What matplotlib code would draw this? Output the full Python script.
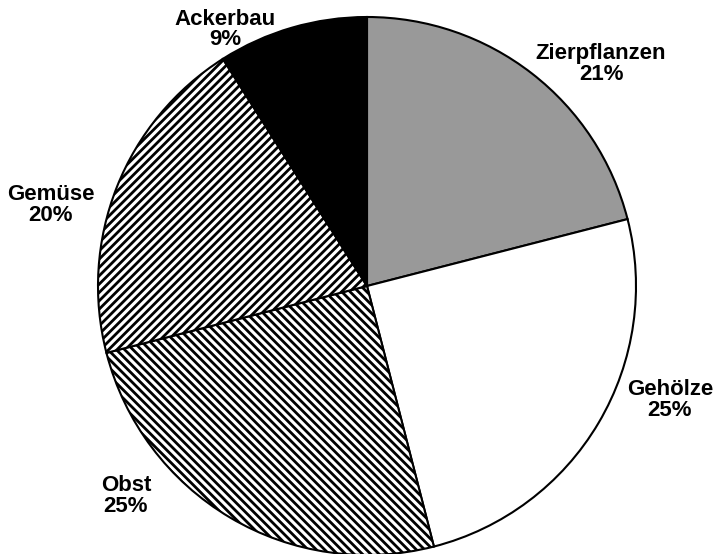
import matplotlib
matplotlib.use("Agg")
import matplotlib.pyplot as plt

# Anteile der Betriebe nach Sparte
labels = ["Zierpflanzen", "Gehölze", "Obst", "Gemüse", "Ackerbau"]
shares = [21, 25, 25, 20, 9]
colors = ["#999999", "white", "white", "white", "black"]
hatches = ["", "", "\\\\\\\\", "////", ""]

# label positions (data coords, pie radius = 1)
label_xy = [(0.870, 0.825), (1.126, -0.424), (-0.896, -0.781),
            (-1.175, 0.301), (-0.528, 0.955)]

plt.rcParams["font.family"] = ["Liberation Sans", "DejaVu Sans"]
plt.rcParams["hatch.linewidth"] = 2.0

fig = plt.figure(figsize=(7.15, 5.54), dpi=100)
ax = fig.add_axes([98 / 715, -1 / 554, 538 / 715, 538 / 554])

wedges, _ = ax.pie(shares, colors=colors, startangle=90, counterclock=False,
                   radius=1, wedgeprops=dict(edgecolor="black", linewidth=1.5))
for w, h in zip(wedges, hatches):
    w.set_hatch(h)

for lab, val, (x, y) in zip(labels, shares, label_xy):
    ax.text(x, y, "%s\n%d%%" % (lab, val), ha="center", va="center",
            fontsize=16, fontweight="bold", linespacing=0.95)

ax.set_xlim(-1, 1)
ax.set_ylim(-1, 1)
ax.set_aspect("equal")
ax.axis("off")

fig.savefig("out.png", dpi=100)
